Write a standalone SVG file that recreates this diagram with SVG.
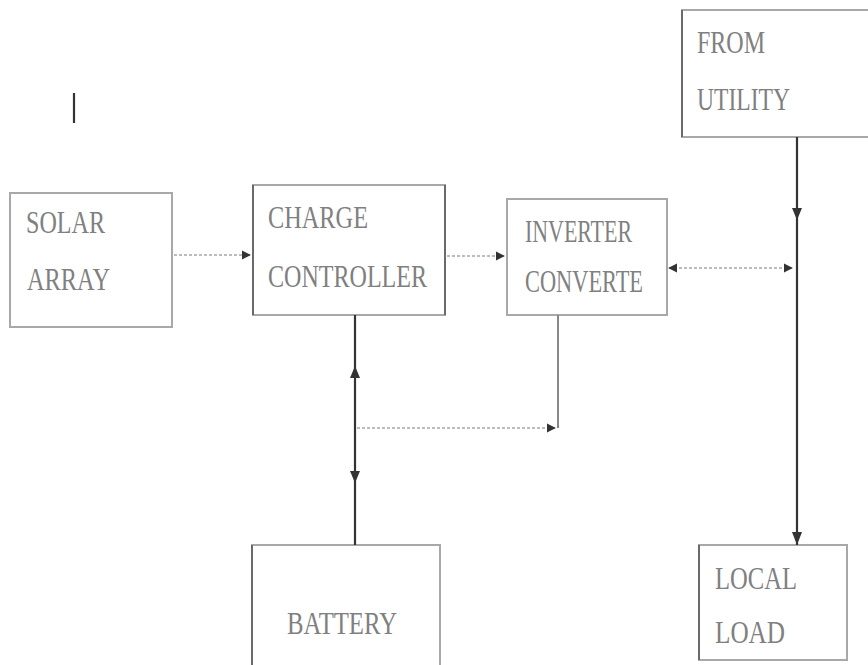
<svg xmlns="http://www.w3.org/2000/svg" width="868" height="665" viewBox="0 0 868 665">
<defs>
<style>
.box{fill:#fff;stroke:#a8a8a8;stroke-width:2}
.edge{stroke:#6a6a6a;stroke-width:2}
.lbl{font-family:"Liberation Serif","Times New Roman",serif;font-size:32px;fill:#808080}
.dot{stroke:#bcbcbc;stroke-width:2;stroke-dasharray:3 2;fill:none}
.solid{stroke:#333;stroke-width:2.2;fill:none}
.gline{stroke:#888;stroke-width:2;fill:none}
</style>
<marker id="ah" viewBox="0 0 10 10" refX="9" refY="5" markerWidth="9" markerHeight="10" markerUnits="userSpaceOnUse" orient="auto-start-reverse">
<path d="M0,0 L10,5 L0,10 z" fill="#333"/>
</marker>
</defs>
<rect width="868" height="665" fill="#fff"/>
<line x1="74" y1="93" x2="74" y2="123" stroke="#333" stroke-width="2.2"/>
<g id="solar">
<rect class="box" x="10" y="193" width="162" height="134"/>
<text class="lbl" x="26" y="233" textLength="79" lengthAdjust="spacingAndGlyphs">SOLAR</text>
<text class="lbl" x="27" y="290" textLength="83" lengthAdjust="spacingAndGlyphs">ARRAY</text>
</g>
<g id="charge">
<rect class="box" x="253" y="185" width="192" height="130"/>
<line class="edge" x1="253" y1="185" x2="253" y2="315"/>
<line class="edge" x1="445" y1="185" x2="445" y2="315"/>
<text class="lbl" x="268" y="228" textLength="100" lengthAdjust="spacingAndGlyphs">CHARGE</text>
<text class="lbl" x="268" y="287" textLength="159" lengthAdjust="spacingAndGlyphs">CONTROLLER</text>
</g>
<g id="inverter">
<rect class="box" x="507" y="199" width="160" height="116"/>
<text class="lbl" x="525" y="242" textLength="107" lengthAdjust="spacingAndGlyphs">INVERTER</text>
<text class="lbl" x="525" y="292" textLength="118" lengthAdjust="spacingAndGlyphs">CONVERTE</text>
</g>
<g id="utility">
<rect class="box" x="682" y="10" width="196" height="127"/>
<line class="edge" x1="682" y1="10" x2="682" y2="137"/>
<text class="lbl" x="697" y="53" textLength="68" lengthAdjust="spacingAndGlyphs">FROM</text>
<text class="lbl" x="697" y="110" textLength="93" lengthAdjust="spacingAndGlyphs">UTILITY</text>
</g>
<g id="battery">
<rect class="box" x="252" y="545" width="188" height="130"/>
<line class="edge" x1="252" y1="545" x2="252" y2="665"/>
<text class="lbl" x="287" y="634" textLength="110" lengthAdjust="spacingAndGlyphs">BATTERY</text>
</g>
<g id="load">
<rect class="box" x="699" y="545" width="148" height="115"/>
<line class="edge" x1="699" y1="545" x2="699" y2="660"/>
<text class="lbl" x="715" y="589" textLength="82" lengthAdjust="spacingAndGlyphs">LOCAL</text>
<text class="lbl" x="715" y="643" textLength="70" lengthAdjust="spacingAndGlyphs">LOAD</text>
</g>
<g id="connectors">
<line class="dot" x1="174" y1="255" x2="250" y2="255" marker-end="url(#ah)"/>
<line class="dot" x1="447" y1="256" x2="504" y2="256" marker-end="url(#ah)"/>
<line class="dot" x1="669" y1="268" x2="792" y2="268" marker-start="url(#ah)" marker-end="url(#ah)"/>
<line class="solid" x1="797" y1="137" x2="797" y2="545"/>
<path d="M792,208 L797,220 L802,208 z" fill="#333"/>
<path d="M792,532 L797,545 L802,532 z" fill="#333"/>
<line class="solid" x1="355" y1="315" x2="355" y2="545"/>
<path d="M350,378 L355,366 L360,378 z" fill="#333"/>
<path d="M350,471 L355,483 L360,471 z" fill="#333"/>
<line class="dot" x1="357" y1="428" x2="555" y2="428" marker-end="url(#ah)"/>
<line class="gline" x1="558" y1="315" x2="558" y2="428"/>
</g>
</svg>
